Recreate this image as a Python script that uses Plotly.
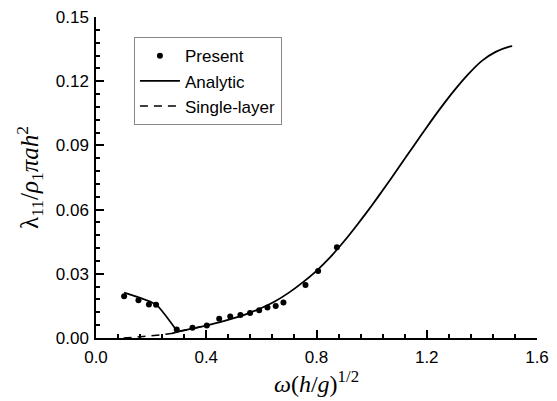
import plotly.graph_objects as go

# Present (numerical) data points
present_x = [0.102, 0.154, 0.192, 0.218, 0.293, 0.350, 0.402, 0.447, 0.487, 0.524,
             0.559, 0.592, 0.622, 0.652, 0.680, 0.760, 0.806, 0.874]
present_y = [0.0195, 0.0176, 0.0157, 0.0155, 0.0040, 0.0048, 0.0058, 0.0090, 0.0100, 0.0108,
             0.0117, 0.0130, 0.0142, 0.0150, 0.0166, 0.0248, 0.0313, 0.0424]

# Analytic solution: low-frequency branch, then main branch
analytic_x1 = [0.102, 0.218, 0.293]
analytic_y1 = [0.0212, 0.0156, 0.0034]
analytic_x2 = [0.277, 0.30, 0.35, 0.40, 0.45, 0.50, 0.55, 0.60, 0.65, 0.70, 0.75, 0.80,
               0.85, 0.90, 0.95, 1.00, 1.05, 1.10, 1.15, 1.20, 1.25, 1.30, 1.35, 1.40,
               1.45, 1.50, 1.51]
analytic_y2 = [0.0022, 0.0030, 0.0044, 0.0058, 0.0074, 0.0093, 0.0114, 0.0140, 0.0172, 0.0212,
               0.0260, 0.0314, 0.0378, 0.0452, 0.0533, 0.0618, 0.0708, 0.0800, 0.0893, 0.0985,
               0.1074, 0.1157, 0.1232, 0.1295, 0.1337, 0.1362, 0.1364]

# Single-layer solution
single_x = [0.10, 0.15, 0.20, 0.25, 0.28, 0.30, 0.35, 0.40]
single_y = [0.0000, 0.0004, 0.0010, 0.0017, 0.0022, 0.0030, 0.0044, 0.0058]

fig = go.Figure()
fig.add_trace(go.Scatter(x=present_x, y=present_y, mode="markers", name="Present",
                         marker=dict(color="black", size=6)))
fig.add_trace(go.Scatter(x=analytic_x1 + [None] + analytic_x2,
                         y=analytic_y1 + [None] + analytic_y2,
                         mode="lines", name="Analytic", connectgaps=False,
                         line=dict(color="black", width=1.8, shape="spline", smoothing=0.5)))
fig.add_trace(go.Scatter(x=single_x, y=single_y, mode="lines", name="Single-layer",
                         line=dict(color="black", width=1.5, dash="8px,6px")))

tickfont = dict(family="Arial, Liberation Sans", size=17, color="black")
axis_common = dict(automargin=False, showline=True, linecolor="black", linewidth=1.5,
                   ticks="inside", ticklen=8, tickwidth=1.5, tickcolor="black",
                   ticklabeloverflow="allow", showgrid=False, zeroline=False,
                   tickfont=tickfont, layer="above traces")
fig.update_layout(
    width=549, height=393,
    margin=dict(l=88, r=20, t=9, b=63),
    paper_bgcolor="white", plot_bgcolor="white",
    showlegend=True,
    legend=dict(x=0.086, y=0.937, xanchor="left", yanchor="top",
                bordercolor="#888888", borderwidth=1, bgcolor="white",
                font=dict(family="Arial, Liberation Sans", size=17, color="black"),
                itemwidth=40, tracegroupgap=0),
    xaxis=dict(range=[0, 1.6], dtick=0.4, tick0=0, tickformat=".1f",
               ticklabelstandoff=3,
               minor=dict(dtick=0.08, tick0=0, ticks="inside", ticklen=4, tickcolor="black", tickwidth=1.5),
               title=dict(text="<i>ω</i>(<i>h</i>/<i>g</i>)<sup>1/2</sup>",
                          font=dict(family="Times New Roman, Liberation Serif", size=24, color="black"),
                          standoff=4),
               **axis_common),
    yaxis=dict(range=[0, 0.15], dtick=0.03, tick0=0, tickformat=".2f",
               ticklabelstandoff=2,
               minor=dict(dtick=0.006, tick0=0, ticks="inside", ticklen=4, tickcolor="black", tickwidth=1.5),
               title=dict(text="λ<sub>11</sub>/<i>ρ</i><sub>1</sub><i>πah</i><sup>2</sup>",
                          font=dict(family="Times New Roman, Liberation Serif", size=25, color="black"),
                          standoff=10),
               **axis_common),
)
fig.write_html("out.html")
